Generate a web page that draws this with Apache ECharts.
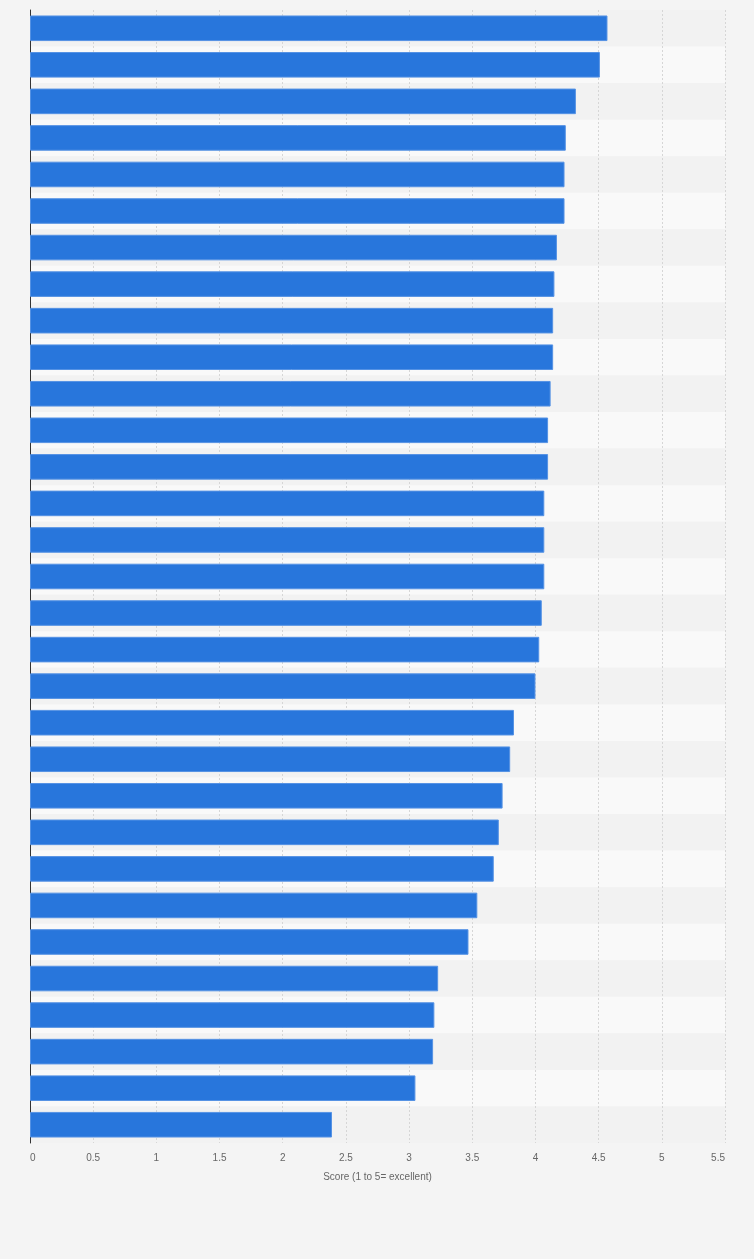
<!DOCTYPE html>
<html>
<head>
<meta charset="utf-8">
<script src="https://cdn.jsdelivr.net/npm/echarts@6/dist/echarts.min.js"></script>
<style>
  html, body { margin: 0; padding: 0; background: #f4f4f4; }
  #chart { width: 754px; height: 1259px; }
</style>
</head>
<body>
<div id="chart"></div>
<script>
// category names are not shown in the picture, so ranks stand in for them
const categories = ['1', '2', '3', '4', '5', '6', '7', '8', '9', '10',
  '11', '12', '13', '14', '15', '16', '17', '18', '19', '20',
  '21', '22', '23', '24', '25', '26', '27', '28', '29', '30', '31']
const scores = [4.57, 4.51, 4.32, 4.24, 4.23, 4.23, 4.17, 4.15, 4.14, 4.14,
  4.12, 4.10, 4.10, 4.07, 4.07, 4.07, 4.05, 4.03, 4.00, 3.83,
  3.80, 3.74, 3.71, 3.67, 3.54, 3.47, 3.23, 3.20, 3.19, 3.05, 2.39]
const axisName = 'Score (1 to 5= excellent)'

const chart = echarts.init(document.getElementById('chart'))

chart.setOption({
  backgroundColor: '#f4f4f4',
  animation: false,
  grid: { left: 30, right: 29, top: 10, bottom: 116 },
  xAxis: {
    type: 'value',
    min: 0,
    max: 5.5,
    interval: 0.5,
    name: axisName,
    nameLocation: 'middle',
    nameGap: 29,
    nameTextStyle: { color: '#666', fontSize: 10, fontFamily: 'Liberation Sans' },
    axisLine: { show: false },
    axisTick: { show: false },
    axisLabel: {
      color: '#666',
      fontSize: 10,
      fontFamily: 'Liberation Sans',
      margin: 10,
      alignMinLabel: 'left',
      alignMaxLabel: 'right'
    },
    splitLine: { show: true, lineStyle: { color: '#d6d6d6', type: [2, 2], width: 1 } }
  },
  yAxis: {
    type: 'category',
    data: categories,
    inverse: true,
    axisLine: { show: true, lineStyle: { color: '#333', width: 1 } },
    axisTick: { show: false },
    axisLabel: { show: false },
    splitArea: { show: true, areaStyle: { color: ['#f2f2f2', '#f9f9f9'] } }
  },
  series: [{
    type: 'bar',
    data: scores,
    barWidth: '70%',
    itemStyle: { color: '#2876dc', borderColor: '#5592e4', borderWidth: 1 }
  }]
})

window.addEventListener('resize', () => {
  chart.resize()
})
</script>
</body>
</html>
